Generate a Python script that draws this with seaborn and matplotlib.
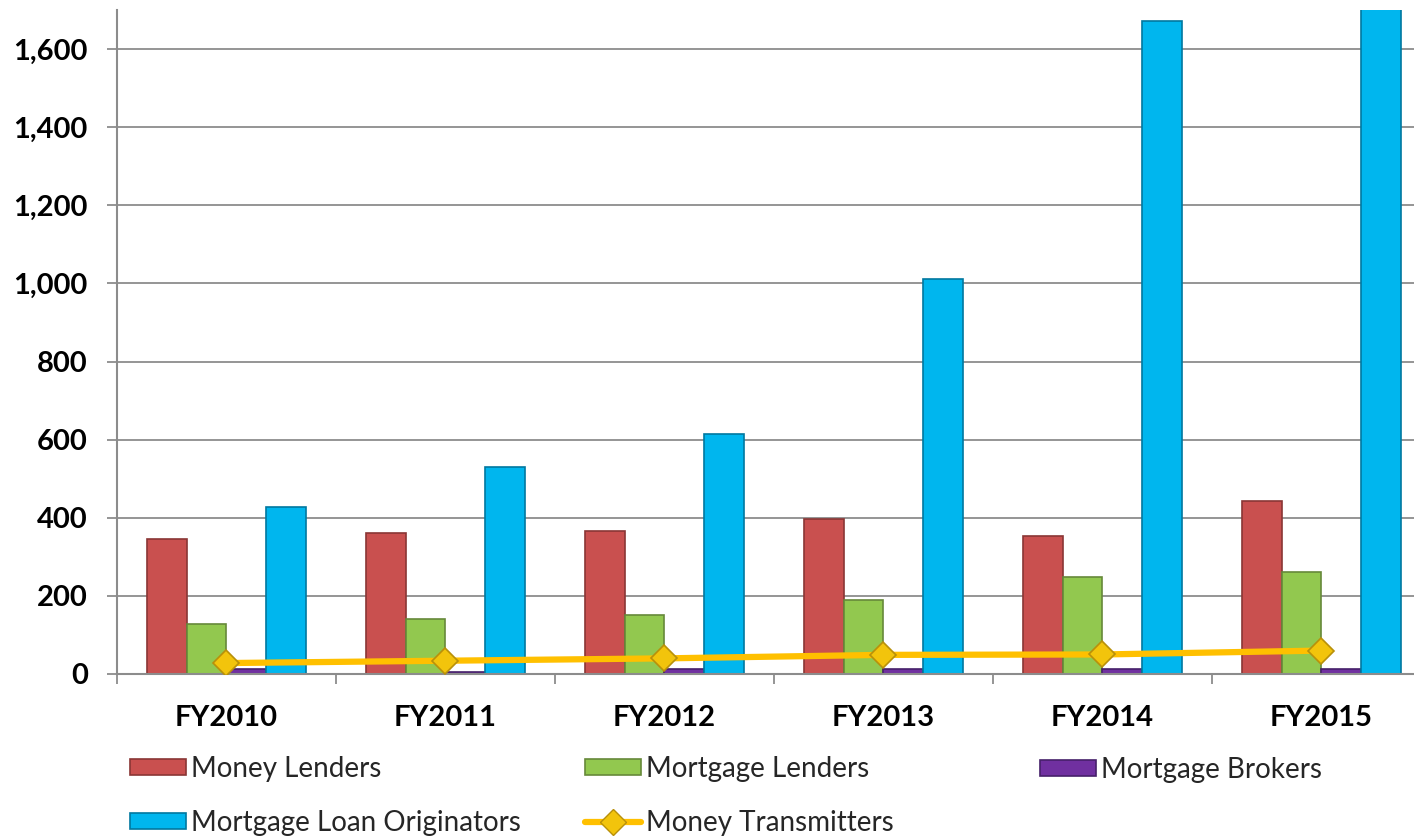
import matplotlib
matplotlib.use("Agg")
import matplotlib.pyplot as plt
import seaborn as sns
import pandas as pd
import numpy as np
from matplotlib.patches import Patch
from matplotlib.lines import Line2D
from matplotlib.ticker import FuncFormatter, FixedLocator

years = ["FY2010", "FY2011", "FY2012", "FY2013", "FY2014", "FY2015"]
money_lenders = [345, 360, 366, 396, 354, 443]
mortgage_lenders = [128, 141, 150, 190, 249, 260]
mortgage_brokers = [14, 6, 13, 12, 12, 12]
mortgage_loan_originators = [427, 530, 615, 1011, 1672, 1800]
money_transmitters = [28, 34, 40, 49, 50, 60]

bar_series = ["Money Lenders", "Mortgage Lenders", "Mortgage Brokers", "Mortgage Loan Originators"]
bar_colors = ["#C9504F", "#92C84F", "#7030A0", "#00B6EE"]
edge_colors = ["#8A3635", "#66893A", "#46206A", "#0078A0"]
line_color = "#FFC000"

sns.set_theme(style="white")
plt.rcParams["font.family"] = ["Lato", "DejaVu Sans"]

df = pd.DataFrame({
    "year": years * 4,
    "value": money_lenders + mortgage_lenders + mortgage_brokers + mortgage_loan_originators,
    "series": sum([[s] * len(years) for s in bar_series], []),
})

fig = plt.figure(figsize=(14.14, 8.4), dpi=100)
ax = fig.add_axes([117 / 1414, 166 / 840, 1314 / 1414, 664 / 840])

sns.barplot(data=df, x="year", y="value", hue="series", hue_order=bar_series,
            palette=bar_colors, width=0.73, ax=ax, legend=False, saturation=1)

for cont, ec in zip(ax.containers, edge_colors):
    for p in cont.patches:
        p.set_edgecolor(ec)
        p.set_linewidth(1.2)

sns.pointplot(x=years, y=money_transmitters, color=line_color, markers="D",
              linestyles="-", ax=ax, markersize=13, linewidth=4.5,
              markeredgecolor="#B8900A", markeredgewidth=1.2)
for ln in ax.lines:
    ln.set_markerfacecolor("#F2C40C")
    ln.set_zorder(5)

ax.set_ylim(0, 1700)
ax.set_xlim(-0.5, 5.5)
ax.set_yticks(np.arange(0, 1700, 200))
ax.yaxis.set_major_formatter(FuncFormatter(lambda v, p: f"{int(v):,}"))
ax.grid(axis="y", color="#8C8C8C", linewidth=1.3)
ax.set_axisbelow(True)
ax.set_xlabel("")
ax.set_ylabel("")

for s in ["top", "right"]:
    ax.spines[s].set_visible(False)
for s in ["left", "bottom"]:
    ax.spines[s].set_color("#8C8C8C")
    ax.spines[s].set_linewidth(1.5)

ax.tick_params(axis="y", which="major", length=7, width=1.3, color="#8C8C8C",
               direction="out", pad=14, labelsize=21, left=True)
ax.tick_params(axis="x", which="major", length=0, pad=22, labelsize=21)
ax.xaxis.set_minor_locator(FixedLocator(np.arange(-0.5, 6.0, 1.0)))
ax.tick_params(axis="x", which="minor", length=7, width=1.3, color="#8C8C8C",
               direction="out", bottom=True)
for lab in ax.get_xticklabels() + ax.get_yticklabels():
    lab.set_fontweight("bold")
    lab.set_color("black")

def bar_handle(i):
    return Patch(facecolor=bar_colors[i], edgecolor=edge_colors[i], linewidth=1.2)

line_handle = Line2D([0], [0], color=line_color, linewidth=4.5, marker="D", markersize=13,
                     markerfacecolor="#F2C40C", markeredgecolor="#B8900A")

common = dict(frameon=False, fontsize=20, handlelength=2.0, handleheight=0.5,
              handletextpad=0.2, borderpad=0, borderaxespad=0, labelspacing=1.0,
              loc="center left")

fig.legend([bar_handle(0), bar_handle(3)], [bar_series[0], bar_series[3]],
           bbox_to_anchor=(130 / 1414, 1 - 796 / 840), **common)
fig.legend([bar_handle(1), line_handle], [bar_series[1], "Money Transmitters"],
           bbox_to_anchor=(585 / 1414, 1 - 796 / 840), **common)
fig.legend([bar_handle(2)], [bar_series[2]],
           bbox_to_anchor=(1040 / 1414, 1 - 770 / 840), **common)

fig.savefig("out.png", dpi=100)
